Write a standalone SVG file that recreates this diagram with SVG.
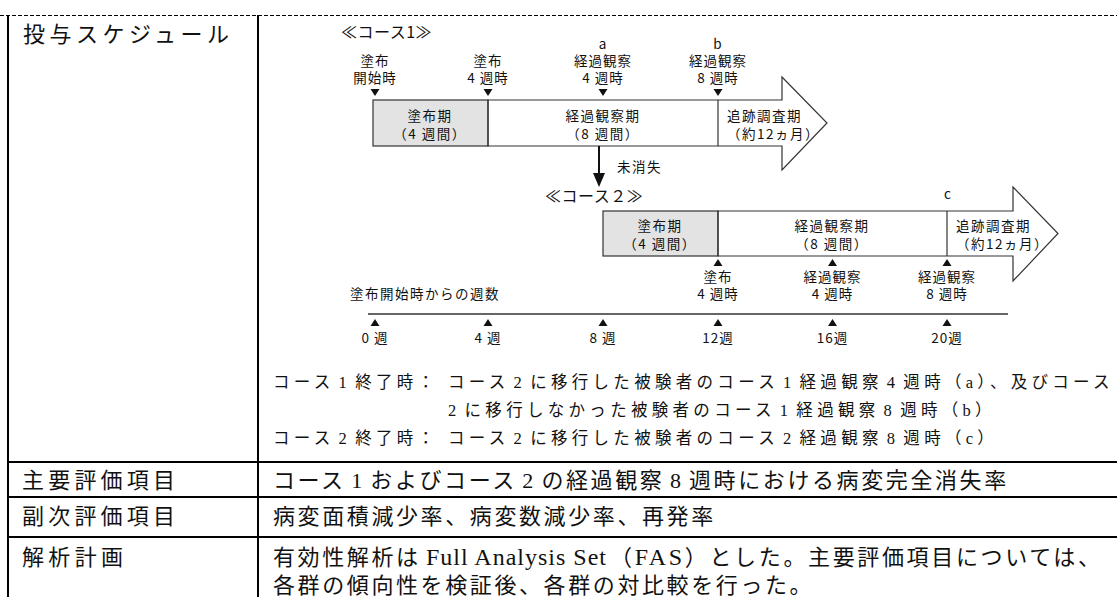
<svg xmlns="http://www.w3.org/2000/svg" width="1117" height="597" viewBox="0 0 1117 597">
<style>
.tb{font-family:"Liberation Serif","Noto Sans CJK JP",serif;font-size:22px;fill:#111}
.tr{letter-spacing:2.6px;word-spacing:-2.6px}
.nt{font-family:"Liberation Serif","Noto Sans CJK JP",serif;font-size:16.5px;letter-spacing:4.3px;word-spacing:-4.4px;fill:#111}
.lb{font-family:"Noto Sans CJK JP",sans-serif;font-size:13.5px;letter-spacing:1px;fill:#111;text-anchor:middle}
.bx{font-family:"Noto Sans CJK JP",sans-serif;font-size:13.5px;letter-spacing:1.5px;fill:#111}
.hd{font-family:"Noto Sans CJK JP",sans-serif;font-size:16px;letter-spacing:0.5px;fill:#111}
.ln{stroke:#000;stroke-width:2;fill:none}
.dl{stroke:#333;stroke-width:1.2;fill:none}
.tri{fill:#111}
</style>
<g id="table">
<line x1="0" y1="15.5" x2="1117" y2="15.5" stroke="#000" stroke-width="1" stroke-dasharray="4 2"/>
<line class="ln" x1="8" y1="15" x2="8" y2="597"/>
<line class="ln" x1="258" y1="15" x2="258" y2="597"/>
<line class="ln" x1="8" y1="462" x2="1117" y2="462"/>
<line class="ln" x1="8" y1="497" x2="1117" y2="497"/>
<line class="ln" x1="8" y1="537" x2="1117" y2="537"/>
<text class="tb" x="23" y="42" textLength="206" lengthAdjust="spacing">投与スケジュール</text>
<text class="tb" x="22" y="488" textLength="153" lengthAdjust="spacing">主要評価項目</text>
<text class="tb" x="22" y="524" textLength="153" lengthAdjust="spacing">副次評価項目</text>
<text class="tb" x="22" y="565" textLength="101" lengthAdjust="spacing">解析計画</text>
<text class="tb tr" x="273" y="488">コース 1 およびコース 2 の経過観察 8 週時における病変完全消失率</text>
<text class="tb tr" x="273" y="524">病変面積減少率、病変数減少率、再発率</text>
<text class="tb" y="565"><tspan x="273" letter-spacing="2.6">有効性解析は</tspan><tspan x="426" font-size="24" letter-spacing="1">Full Analysis Set</tspan><tspan x="610" textLength="490" lengthAdjust="spacing">（<tspan font-size="24">FAS</tspan>）とした。主要評価項目については、</tspan></text>
<text class="tb tr" x="273" y="593">各群の傾向性を検証後、各群の対比較を行った。</text>
<text class="nt" x="273" y="388">コース 1 終了時：</text>
<text class="nt" x="448" y="388">コース 2 に移行した被験者のコース 1 経過観察 4 週時（a）、及びコース</text>
<text class="nt" x="448" y="416">2 に移行しなかった被験者のコース 1 経過観察 8 週時（b）</text>
<text class="nt" x="273" y="444">コース 2 終了時：</text>
<text class="nt" x="448" y="444">コース 2 に移行した被験者のコース 2 経過観察 8 週時（c）</text>
</g>
<g id="course1">
<text class="hd" x="341" y="38">≪コース1≫</text>
<text class="lb" x="375" y="66">塗布</text><text class="lb" x="375" y="83">開始時</text>
<text class="lb" x="488" y="66">塗布</text><text class="lb" x="488" y="83">4 週時</text>
<text class="lb" x="603" y="49">a</text><text class="lb" x="603" y="66">経過観察</text><text class="lb" x="603" y="83">4 週時</text>
<text class="lb" x="718" y="49">b</text><text class="lb" x="718" y="66">経過観察</text><text class="lb" x="718" y="83">8 週時</text>
<polygon class="tri" points="370.5,89 379.5,89 375,96"/>
<polygon class="tri" points="483.5,89 492.5,89 488,96"/>
<polygon class="tri" points="598.5,89 607.5,89 603,96"/>
<polygon class="tri" points="713.5,89 722.5,89 718,96"/>
<rect x="373" y="100" width="115" height="46" fill="#e3e3e3" stroke="#333" stroke-width="1.2"/>
<path class="dl" d="M488,100 H782 V77 L827,123 L782,170 V146 H488 Z" fill="#fff"/>
<line class="dl" x1="718" y1="100" x2="718" y2="146"/>
<text class="bx" x="430" y="121" text-anchor="middle">塗布期</text>
<text class="bx" x="430" y="139" text-anchor="middle">（4 週間）</text>
<text class="bx" x="603" y="121" text-anchor="middle">経過観察期</text>
<text class="bx" x="603" y="139" text-anchor="middle">（8 週間）</text>
<text class="bx" x="727" y="121">追跡調査期</text>
<text class="bx" x="727" y="139">（約12ヵ月）</text>
</g>
<g id="connectors">
<line x1="599" y1="146" x2="599" y2="176" stroke="#111" stroke-width="2"/>
<polygon class="tri" points="593,173 605,173 599,187"/>
<text class="bx" x="617" y="172">未消失</text>
</g>
<g id="course2">
<text class="hd" x="545" y="202">≪コース２≫</text>
<text class="lb" x="948" y="199">c</text>
<rect x="603" y="211" width="115" height="45" fill="#e3e3e3" stroke="#333" stroke-width="1.2"/>
<path class="dl" d="M718,211 H1013 V187 L1058,233.5 L1013,281 V256 H718 Z" fill="#fff"/>
<line class="dl" x1="947" y1="211" x2="947" y2="256"/>
<text class="bx" x="660" y="231" text-anchor="middle">塗布期</text>
<text class="bx" x="660" y="249" text-anchor="middle">（4 週間）</text>
<text class="bx" x="832" y="231" text-anchor="middle">経過観察期</text>
<text class="bx" x="832" y="249" text-anchor="middle">（8 週間）</text>
<text class="bx" x="956" y="231">追跡調査期</text>
<text class="bx" x="956" y="249">（約12ヵ月）</text>
<polygon class="tri" points="713.5,266 722.5,266 718,259"/>
<polygon class="tri" points="828,266 837,266 832.5,259"/>
<polygon class="tri" points="942.5,266 951.5,266 947,259"/>
<text class="lb" x="718" y="282">塗布</text><text class="lb" x="718" y="299">4 週時</text>
<text class="lb" x="832.5" y="282">経過観察</text><text class="lb" x="832.5" y="299">4 週時</text>
<text class="lb" x="947" y="282">経過観察</text><text class="lb" x="947" y="299">8 週時</text>
</g>
<g id="timeline">
<text class="bx" x="350" y="299">塗布開始時からの週数</text>
<line x1="368" y1="314" x2="1008" y2="314" stroke="#333" stroke-width="1.5"/>
<polygon class="tri" points="370.5,326 379.5,326 375,319"/>
<polygon class="tri" points="483.5,326 492.5,326 488,319"/>
<polygon class="tri" points="598.5,326 607.5,326 603,319"/>
<polygon class="tri" points="713.5,326 722.5,326 718,319"/>
<polygon class="tri" points="828,326 837,326 832.5,319"/>
<polygon class="tri" points="942.5,326 951.5,326 947,319"/>
<text class="lb" x="375" y="343">0 週</text>
<text class="lb" x="488" y="343">4 週</text>
<text class="lb" x="603" y="343">8 週</text>
<text class="lb" x="718" y="343">12週</text>
<text class="lb" x="832.5" y="343">16週</text>
<text class="lb" x="947" y="343">20週</text>
</g>
</svg>
